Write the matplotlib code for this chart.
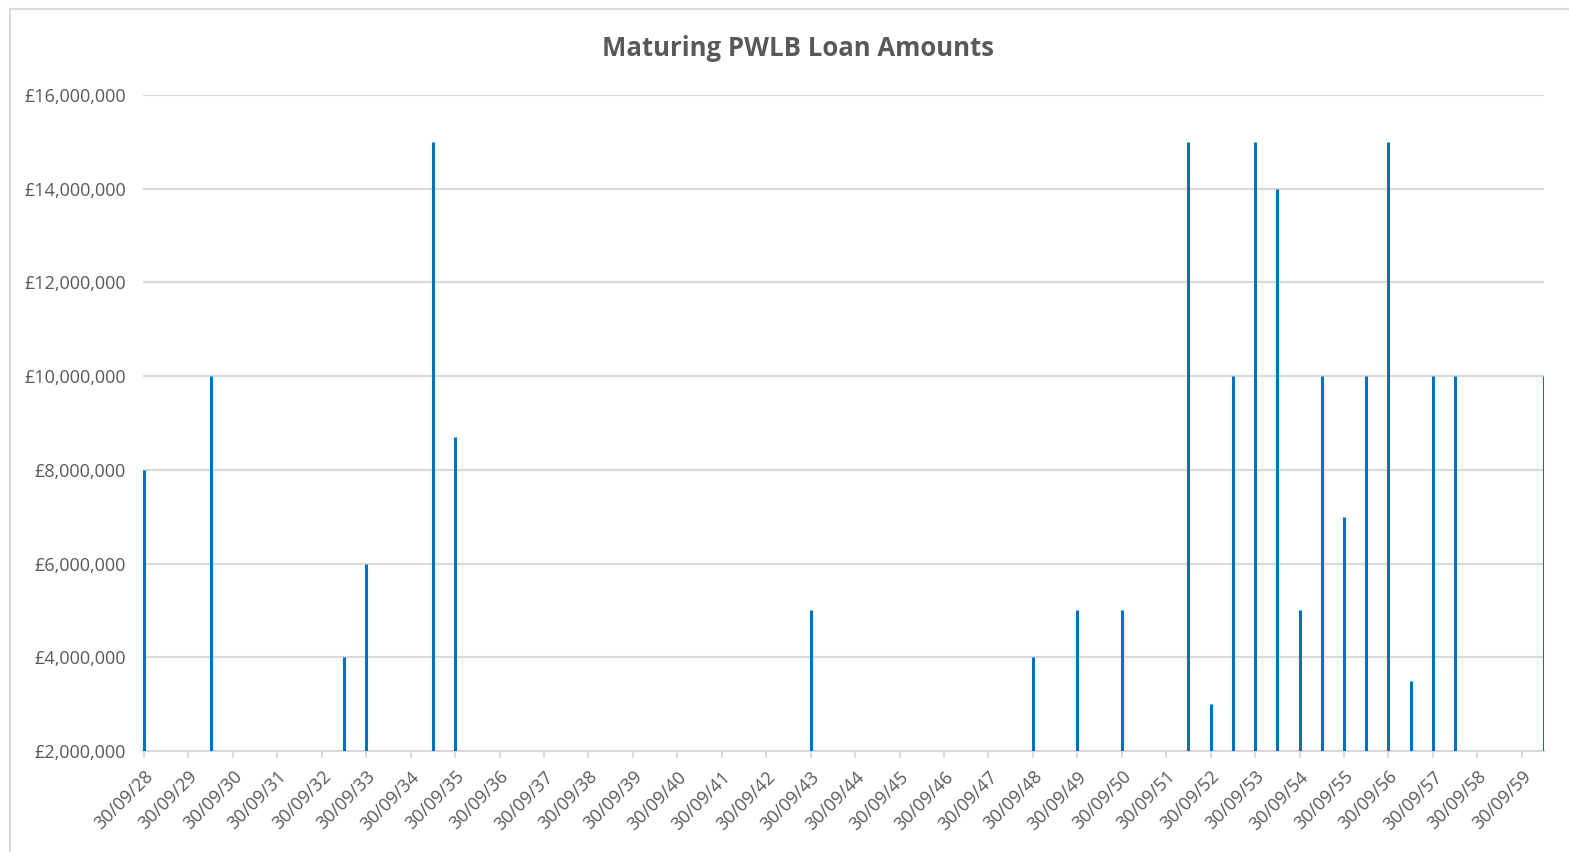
import matplotlib
matplotlib.use("Agg")
import matplotlib.pyplot as plt
import matplotlib.dates as mdates
from matplotlib.ticker import FuncFormatter, MultipleLocator
from matplotlib.patches import Rectangle
import datetime as dt

maturity_dates = [
    "2028-09-30", "2030-03-31", "2033-03-31", "2033-09-30", "2035-03-31",
    "2035-09-30", "2043-09-30", "2048-09-30", "2049-09-30", "2050-09-30",
    "2052-03-31", "2052-09-30", "2053-03-31", "2053-09-30", "2054-03-31",
    "2054-09-30", "2055-03-31", "2055-09-30", "2056-03-31", "2056-09-30",
    "2057-03-31", "2057-09-30", "2058-03-31", "2060-03-31",
]
amounts = [
    8000000, 10000000, 4000000, 6000000, 15000000,
    8700000, 5000000, 4000000, 5000000, 5000000,
    15000000, 3000000, 10000000, 15000000, 14000000,
    5000000, 10000000, 7000000, 10000000, 15000000,
    3500000, 10000000, 10000000, 10000000,
]
tick_years = list(range(2028, 2060))
title = "Maturing PWLB Loan Amounts"
y_min, y_max, y_step = 2000000, 16000000, 2000000

dates = [dt.datetime.strptime(d, "%Y-%m-%d") for d in maturity_dates]

W, H, DPI = 1569, 852, 100
fig = plt.figure(figsize=(W / DPI, H / DPI), dpi=DPI)
fig.patch.set_facecolor("white")

left, right, top, bottom = 142.5, 1544, 95, 751
ax = fig.add_axes([left / W, 1 - bottom / H, (right - left) / W, (bottom - top) / H])

font = "Open Sans"
txt_color = "#595959"
grid_color = "#d9d9d9"

ax.vlines(dates, y_min, amounts, color="#0070C0", linewidth=2.2, zorder=3)

ax.set_ylim(y_min, y_max)
ax.set_xlim(dt.datetime(2028, 9, 18), dt.datetime(2060, 3, 31))
ax.yaxis.set_major_locator(MultipleLocator(y_step))
ax.yaxis.set_major_formatter(FuncFormatter(lambda v, p: "£{:,.0f}".format(v)))

ticks = [dt.datetime(y, 9, 30) for y in tick_years]
ax.set_xticks(ticks)
ax.xaxis.set_major_formatter(mdates.DateFormatter("%d/%m/%y"))

for s in ["top", "right", "left"]:
    ax.spines[s].set_visible(False)
ax.spines["bottom"].set_color(grid_color)
ax.spines["bottom"].set_linewidth(1.5)
ax.spines["bottom"].set_zorder(2)

ax.grid(axis="y", color=grid_color, linewidth=1.5, zorder=0)
ax.set_axisbelow(True)

ax.tick_params(axis="y", length=0, pad=12, labelsize=13, labelcolor=txt_color)
ax.tick_params(axis="x", length=5, width=1.3, color=grid_color, direction="out",
               pad=7, labelsize=13, labelcolor=txt_color)
for lbl in ax.get_xticklabels():
    lbl.set_rotation(45)
    lbl.set_ha("right")
    lbl.set_va("top")
    lbl.set_rotation_mode("anchor")
    lbl.set_fontfamily(font)
for lbl in ax.get_yticklabels():
    lbl.set_fontfamily(font)

fig.text(798 / W, 1 - 49 / H, title, ha="center", va="center", fontsize=18.5,
         fontweight="bold", color=txt_color, family=font)

# chart border (top & left visible)
fig.add_artist(Rectangle((10 / W, -0.1), 1.2, (1 - 9 / H) + 0.1, transform=fig.transFigure,
                         fill=False, edgecolor=grid_color, linewidth=1.5))

fig.savefig("out.png", dpi=DPI, facecolor="white")
